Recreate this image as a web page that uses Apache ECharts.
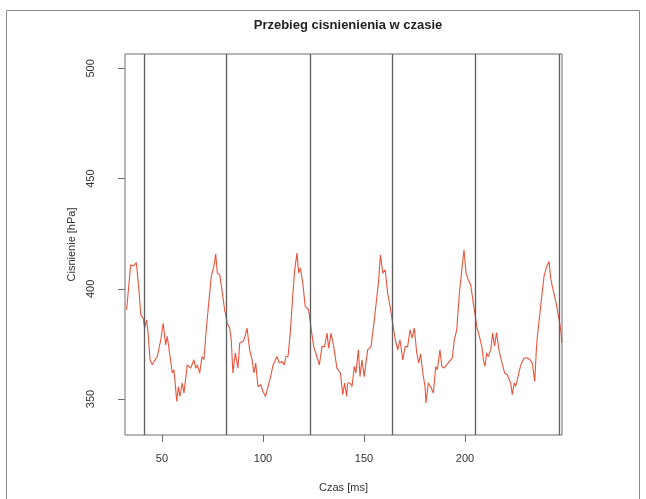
<!DOCTYPE html>
<html>
<head>
<meta charset="utf-8">
<script src="https://cdn.jsdelivr.net/npm/echarts@6/dist/echarts.min.js"></script>
<style>html,body{margin:0;padding:0;background:#fff;}#c{width:646px;height:499px;}</style>
</head>
<body>
<div id="c"></div>
<script>
const timeMs = [32.5,34.5,35.8,37.3,38.6,39.5,40.7,41.4,42.4,43.1,44.1,45.2,46.0,47.7,49.4,50.6,51.8,52.6,54.0,55.1,55.9,56.4,57.3,58.1,58.9,60.0,60.9,62.5,64.2,65.0,65.8,66.7,67.5,68.7,69.8,70.8,71.9,73.3,74.4,75.7,76.6,77.4,78.6,79.7,81.0,82.3,83.5,84.3,85.1,86.3,87.6,88.5,90.1,90.9,92.1,93.4,94.6,95.5,96.4,97.5,98.9,100.0,101.3,102.5,103.8,105.0,105.8,106.9,108.1,109.4,110.5,111.4,112.4,113.5,114.7,115.7,116.8,117.7,118.5,119.7,120.9,122.6,123.9,125.1,126.4,127.9,129.2,130.5,131.7,132.5,133.7,135.0,136.6,138.3,139.5,140.4,141.4,141.9,143.1,144.1,145.2,146.0,147.2,148.0,149.0,150.1,151.8,153.5,155.1,156.3,157.3,158.1,159.3,160.5,161.7,162.9,164.2,165.5,166.7,167.8,169.2,170.4,171.6,172.8,173.8,174.9,176.1,177.1,178.0,179.1,180.2,180.7,181.8,183.0,184.3,185.5,186.3,187.6,188.5,189.6,190.9,192.2,193.7,194.7,195.9,197.2,198.4,199.5,200.5,201.6,202.8,204.1,205.0,205.8,207.1,208.3,209.1,209.9,210.7,211.5,212.7,213.7,214.6,215.6,216.8,217.7,218.5,219.6,220.9,221.8,222.6,223.4,224.3,225.1,226.2,227.6,229.2,230.8,232.2,233.3,234.5,235.3,235.8,236.6,237.8,239.1,240.4,241.6,242.4,243.2,244.4,245.4,246.4,247.4,248.0];
const pressureHPa = [390.5,410.9,410.4,411.9,399.5,388.2,386.7,382.3,385.9,380.0,367.8,365.5,367.0,369.3,376.9,384.4,374.6,378.4,369.3,361.8,363.3,358.7,348.9,355.7,351.2,357.3,352.7,365.5,364.0,363.3,367.8,364.0,365.5,361.8,369.3,367.8,381.4,395.0,405.6,410.1,415.9,407.1,406.3,399.5,390.5,384.4,382.2,376.9,361.8,370.9,364.0,375.4,376.1,377.6,382.2,372.3,367.8,361.8,366.3,355.7,356.5,353.4,351.2,355.7,360.2,365.5,367.0,369.3,366.3,367.0,365.5,369.3,369.3,379.9,396.5,408.6,416.2,407.1,409.4,402.6,392.0,390.5,381.4,373.8,370.1,365.5,373.8,373.8,379.9,373.1,379.9,373.8,364.0,361.8,352.0,357.3,351.2,357.3,357.3,355.7,364.8,361.8,372.3,360.2,367.8,360.2,372.3,373.8,385.9,395.8,404.1,415.4,407.1,408.6,398.0,392.0,384.4,376.9,372.3,376.9,367.8,373.8,373.8,381.4,377.6,382.2,370.9,366.3,370.5,361.8,355.7,348.2,357.3,355.7,352.7,364.8,363.3,372.3,364.8,364.0,365.5,367.0,368.6,376.9,381.4,398.0,408.6,417.7,407.1,404.1,401.8,393.5,388.2,382.9,378.4,373.8,367.8,364.8,370.9,369.3,372.3,379.9,374.0,380.2,372.3,368.6,368.6,361.8,361.0,361.8,357.3,352.0,357.3,355.7,360.2,365.5,368.6,368.6,367.8,366.3,358.0,372.3,378.4,378.4,395.0,405.6,410.1,412.4,404.9,401.1,396.5,392.0,386.7,381.4,375.4];
const markerTimes = [41.2, 82.0, 123.3, 164.2, 205.3, 246.5];
const xTicks = [50, 100, 150, 200];
const yTicks = [350, 400, 450, 500];

const seriesData = timeMs.map((t, i) => [t, pressureHPa[i]]);
const chart = echarts.init(document.getElementById('c'), null, {renderer: 'canvas'});
const font = 'Liberation Sans, Arial, sans-serif';
chart.setOption({
  animation: false,
  backgroundColor: '#ffffff',
  title: {
    text: 'Przebieg cisnienienia w czasie',
    left: 343, top: 14, textAlign: 'center',
    textStyle: {fontFamily: font, fontSize: 13, fontWeight: 'bold', color: '#222'}
  },
  graphic: [{
    type: 'rect', silent: true, z: -10,
    shape: {x: 6.5, y: 10.5, width: 633, height: 520},
    style: {fill: null, stroke: '#8a8a8a', lineWidth: 1}
  }],
  grid: {left: 125, right: 84, top: 54, bottom: 64, show: true, borderColor: '#6e6e6e', borderWidth: 1, backgroundColor: 'transparent'},
  xAxis: {
    type: 'value', min: 31.7, max: 248,
    name: 'Czas [ms]', nameLocation: 'middle', nameGap: 47,
    nameTextStyle: {fontFamily: font, fontSize: 11, color: '#333'},
    axisLine: {show: false},
    axisTick: {show: true, length: 7, lineStyle: {color: '#6e6e6e'}, customValues: xTicks},
    axisLabel: {fontFamily: font, fontSize: 11, color: '#333', margin: 18, customValues: xTicks},
    splitLine: {show: false}
  },
  yAxis: {
    type: 'value', min: 333.7, max: 506.5,
    name: 'Cisnienie [hPa]', nameLocation: 'middle', nameGap: 47, nameRotate: 90,
    nameTextStyle: {fontFamily: font, fontSize: 11, color: '#333'},
    axisLine: {show: false},
    axisTick: {show: true, length: 7, lineStyle: {color: '#6e6e6e'}, customValues: yTicks},
    axisLabel: {fontFamily: font, fontSize: 11, color: '#333', margin: 29, rotate: 90, customValues: yTicks},
    splitLine: {show: false}
  },
  series: [{
    type: 'line', data: seriesData, showSymbol: false, symbol: 'none',
    lineStyle: {color: '#e8553d', width: 1.1},
    clip: true,
    markLine: {
      silent: true, symbol: 'none', label: {show: false},
      lineStyle: {color: '#5e5e5e', width: 1.3, type: 'solid'},
      data: markerTimes.map(t => ({xAxis: t}))
    }
  }]
});
</script>
</body>
</html>
